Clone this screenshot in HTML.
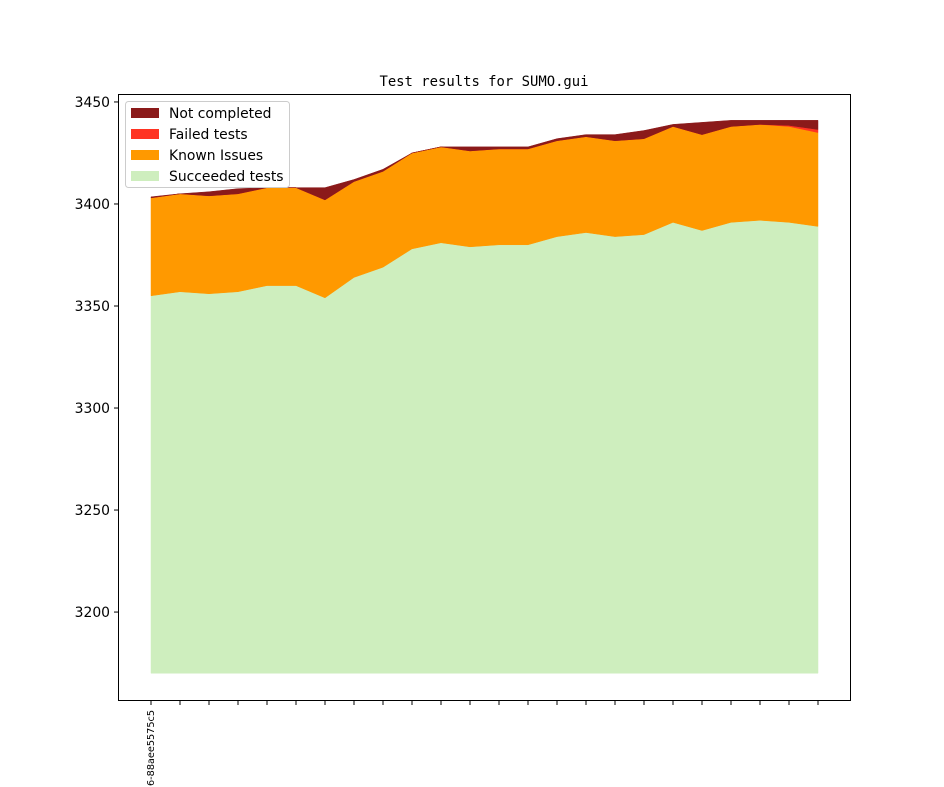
<!DOCTYPE html>
<html><head><meta charset="utf-8"><style>
html,body{margin:0;padding:0;background:#fff;}
svg{display:block;font-family:"DejaVu Sans","Liberation Sans",sans-serif;}
</style></head><body>
<svg id="chart" width="944" height="787" viewBox="0 0 944 787">
<rect x="0" y="0" width="944" height="787" fill="#fff"/>
<text x="484" y="86" text-anchor="middle" font-family="DejaVu Sans Mono, Liberation Mono, monospace" font-size="13.9">Test results for SUMO.gui</text>
<g id="areas"></g>
<rect x="118.5" y="94.5" width="732" height="606" fill="none" stroke="#000" stroke-width="1"/>
<g id="yaxis"></g>
<g id="xaxis"></g>
<g>
<rect x="125.5" y="101.5" width="164" height="86" rx="3" fill="#fff" fill-opacity="0.8" stroke="#ccc"/>
<rect x="131" y="108" width="28" height="10" fill="#8b1a1a"/>
<text x="169" y="118" font-size="13.9">Not completed</text>
<rect x="131" y="129" width="28" height="10" fill="#ff3322"/>
<text x="169" y="139" font-size="13.9">Failed tests</text>
<rect x="131" y="150" width="28" height="10" fill="#ff9900"/>
<text x="169" y="160" font-size="13.9">Known Issues</text>
<rect x="131" y="171" width="28" height="10" fill="#ceeebe"/>
<text x="169" y="181" font-size="13.9">Succeeded tests</text>
</g>
</svg>
<script>
const categories = ["6-88aee5575c5","","","","","","","","","","","","","","","","","","","","","","",""];
const succeeded = [3355,3357,3356,3357,3360,3360,3354,3364,3369,3378,3381,3379,3380,3380,3384,3386,3384,3385,3391,3387,3391,3392,3391,3389];
const knownIssues = [48,48,48,48,48,48,48,47,47,47,47,47,47,47,47,47,47,47,47,47,47,47,47,46];
const failedTests = [0,0,0,0,0,0,0,0,0,0,0,0,0,0,0,0,0,0,0,0,0,0,0.5,1.5];
const notCompleted = [0.5,0,2,2.5,0,0,6,1,1,0,0,2,1,1,1,1,3,4,1,6,3,2,2.5,4.5];
const yTicks = [3200,3250,3300,3350,3400,3450];
const baseline = 3170;

const NS = "http://www.w3.org/2000/svg";
const yMin = 3156.9, yMax = 3453.9, pTop = 94, pBot = 700;
function yScale(v){ return pBot - (v - yMin) / (yMax - yMin) * (pBot - pTop); }
function xScale(i){ return 151 + i * (818 - 151) / (categories.length - 1); }

const areas = document.getElementById('areas');
const series = [
  {name:'area-succeeded', data:succeeded, color:'#ceeebe', base:true},
  {name:'area-known-issues', data:knownIssues, color:'#ff9900'},
  {name:'area-failed-tests', data:failedTests, color:'#ff3322'},
  {name:'area-not-completed', data:notCompleted, color:'#8b1a1a'}
];
let lower = categories.map(() => baseline);
series.forEach(s => {
  const upper = s.base ? s.data.slice() : lower.map((v, i) => v + s.data[i]);
  let d = '';
  upper.forEach((v, i) => { d += (i ? 'L' : 'M') + xScale(i) + ',' + yScale(v); });
  for (let i = lower.length - 1; i >= 0; i--) d += 'L' + xScale(i) + ',' + yScale(lower[i]);
  d += 'Z';
  const p = document.createElementNS(NS, 'path');
  p.setAttribute('d', d);
  p.setAttribute('fill', s.color);
  p.setAttribute('stroke', s.color);
  p.setAttribute('stroke-width', '0.5');
  
  
  areas.appendChild(p);
  lower = upper;
});

const yaxis = document.getElementById('yaxis');
yTicks.forEach(t => {
  const y = yScale(t);
  const l = document.createElementNS(NS, 'line');
  l.setAttribute('x1', 114); l.setAttribute('x2', 118.5);
  l.setAttribute('y1', y); l.setAttribute('y2', y);
  l.setAttribute('stroke', '#000');
  
  
  yaxis.appendChild(l);
  const tx = document.createElementNS(NS, 'text');
  tx.setAttribute('x', 110); tx.setAttribute('y', y + 5);
  tx.setAttribute('text-anchor', 'end');
  tx.setAttribute('font-size', '13.9');
  tx.textContent = t;
  
  
  yaxis.appendChild(tx);
});

const xaxis = document.getElementById('xaxis');
categories.forEach((c, i) => {
  const x = xScale(i);
  const l = document.createElementNS(NS, 'line');
  l.setAttribute('x1', x); l.setAttribute('x2', x);
  l.setAttribute('y1', 700.5); l.setAttribute('y2', 705);
  l.setAttribute('stroke', '#000');
  
  
  xaxis.appendChild(l);
  if (c) {
    const tx = document.createElementNS(NS, 'text');
    tx.setAttribute('x', x + 3); tx.setAttribute('y', 710);
    tx.setAttribute('text-anchor', 'end');
    tx.setAttribute('font-size', '9.7');
    tx.setAttribute('transform', 'rotate(-90 ' + (x + 3) + ' 710)');
    tx.textContent = c;
    
    
    xaxis.appendChild(tx);
  }
});
</script>
</body></html>
